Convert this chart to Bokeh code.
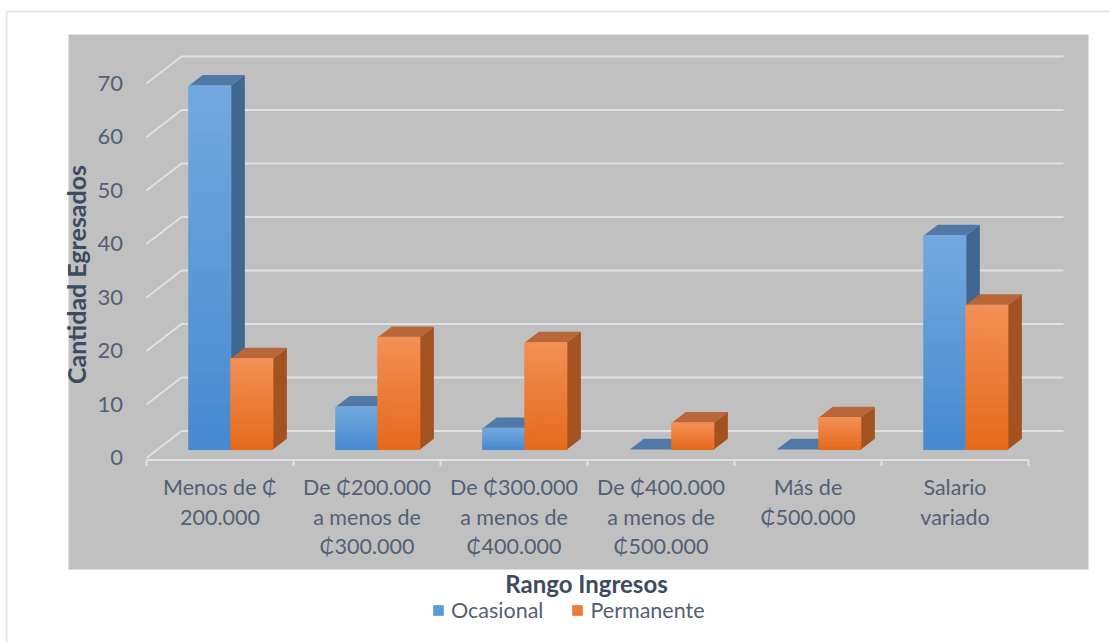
import numpy as np
from bokeh.plotting import figure
from bokeh.models import Range1d, Legend, LegendItem
from bokeh.core.properties import value
from bokeh.embed import file_html
from bokeh.resources import INLINE

# ---------------- data ----------------
categories = [
    "Menos de \u20b5\n200.000",
    "De \u20b5200.000\na menos de\n\u20b5300.000",
    "De \u20b5300.000\na menos de\n\u20b5400.000",
    "De \u20b5400.000\na menos de\n\u20b5500.000",
    "M\u00e1s de\n\u20b5500.000",
    "Salario\nvariado",
]
ocasional = [68, 8, 4, 0, 0, 40]
permanente = [17, 21, 20, 5, 6, 27]
series_names = ["Ocasional", "Permanente"]
y_ticks = [0, 10, 20, 30, 40, 50, 60, 70]
y_title = "Cantidad Egresados"
x_title = "Rango Ingresos"

# ---------------- style / layout ----------------
FONT = "Lato"
LABEL_C = "#536075"
TITLE_C = "#3e4b5f"
GRID_C = "#e0e1e4"
BORDER_C = "#e3e6ee"
BG = "#c0c0c0"
W, H = 1110, 642
X_RANGE = (-0.9932, 6.5578)          # whole canvas, category units
Y_RANGE = (-34.49, 85.51)            # whole canvas, value units
PANEL = dict(left=-0.5306, right=6.408, bottom=-20.84, top=79.16)  # grey chart area
BORDER_TOP, BORDER_LEFT = 83.46, -0.952
DX, DY = 0.238, 5.05        # oblique depth of the floor
F0, F1 = 0.31, 0.71         # bar depth position (fraction of floor depth)
BW = 0.286                  # bar width (category units)
AX = -0.4                   # front axis line offset
N_SLICES = 24

styles = [
    dict(top_c="#74a9df", bot_c="#4589cf", side_c="#3f6792", cap_c="#5079a5"),
    dict(top_c="#f38f55", bot_c="#e56a1b", side_c="#a4521f", cap_c="#b9673a"),
]

n = len(categories)

p = figure(width=W, height=H,
           x_range=Range1d(*X_RANGE), y_range=Range1d(*Y_RANGE),
           x_axis_type=None, y_axis_type=None,
           toolbar_location=None, output_backend="svg",
           min_border=0, background_fill_color="white",
           border_fill_color="white", outline_line_color=None)

# outer chart border (top and left)
p.segment(x0=[BORDER_LEFT], y0=[BORDER_TOP], x1=[X_RANGE[1]], y1=[BORDER_TOP],
          line_color=BORDER_C, line_width=2)
p.segment(x0=[BORDER_LEFT], y0=[Y_RANGE[0]], x1=[BORDER_LEFT], y1=[BORDER_TOP],
          line_color=BORDER_C, line_width=2)

# grey chart area
p.quad(left=[PANEL["left"]], right=[PANEL["right"]], bottom=[PANEL["bottom"]],
       top=[PANEL["top"]], fill_color=BG, line_color=None)

# back-wall gridlines with the left diagonal
grid_xs = [[0, DX, n + DX] for v in y_ticks]
grid_ys = [[v, v + DY, v + DY] for v in y_ticks]
p.multi_line(grid_xs, grid_ys, line_color=GRID_C, line_width=2)

# front category axis line and boundary ticks
p.segment(x0=[0], y0=[AX], x1=[n], y1=[AX], line_color=GRID_C, line_width=2)
p.segment(x0=list(range(n + 1)), y0=[AX] * (n + 1),
          x1=list(range(n + 1)), y1=[AX - 1.1] * (n + 1),
          line_color=GRID_C, line_width=2)


def hex2rgb(h):
    h = h.lstrip("#")
    return [int(h[i:i + 2], 16) for i in (0, 2, 4)]


def mix(c1, c2, t):
    a, b = hex2rgb(c1), hex2rgb(c2)
    return "#%02x%02x%02x" % tuple(int(round(a[k] + (b[k] - a[k]) * t)) for k in range(3))


front_renderers = []
for s, vals in enumerate([ocasional, permanente]):
    st = styles[s]
    side_xs, side_ys, cap_xs, cap_ys = [], [], [], []
    fl, fr, fb, ft, fc = [], [], [], [], []
    ox, oy = (F1 - F0) * DX, (F1 - F0) * DY
    for i, v in enumerate(vals):
        x0 = i + 0.5 - BW + s * BW + F0 * DX
        x1 = x0 + BW
        y0 = F0 * DY
        side_xs.append([x1, x1 + ox, x1 + ox, x1])
        side_ys.append([y0, y0 + oy, y0 + v + oy, y0 + v])
        cap_xs.append([x0, x1, x1 + ox, x0 + ox])
        cap_ys.append([y0 + v, y0 + v, y0 + v + oy, y0 + v + oy])
        if v > 0:
            for k in range(N_SLICES):
                fl.append(x0)
                fr.append(x1)
                fb.append(y0 + v * k / N_SLICES)
                ft.append(y0 + v * (k + 1) / N_SLICES)
                fc.append(mix(st["bot_c"], st["top_c"], (k + 0.5) / N_SLICES))
    p.patches(side_xs, side_ys, fill_color=st["side_c"], line_color=None)
    p.patches(cap_xs, cap_ys, fill_color=st["cap_c"], line_color=None)
    r = p.quad(left=fl, right=fr, bottom=fb, top=ft, fill_color=fc, line_color=fc, line_width=1)
    front_renderers.append(r)

# value tick labels
p.text(x=[-0.16] * len(y_ticks), y=y_ticks, text=[str(v) for v in y_ticks],
       text_align="right", text_baseline="middle", text_font=value(FONT),
       text_font_size="22px", text_color=LABEL_C)

# category labels
p.text(x=[i + 0.5 for i in range(n)], y=[-3.05] * n, text=categories,
       text_align="center", text_baseline="top", text_line_height=1.13,
       text_font=value(FONT), text_font_size="21.5px", text_color=LABEL_C)

# value axis title
p.text(x=[-0.48], y=[34.3], text=[y_title], angle=np.pi / 2,
       text_align="center", text_baseline="middle", text_font=value(FONT),
       text_font_size="25px", text_font_style="bold", text_color=TITLE_C)

# category axis title
p.text(x=[2.993], y=[-23.5], text=[x_title],
       text_align="center", text_baseline="middle", text_font=value(FONT),
       text_font_size="24px", text_font_style="bold", text_color=TITLE_C)

legend = Legend(items=[LegendItem(label=series_names[k], renderers=[front_renderers[k]],
                                  index=N_SLICES // 2) for k in range(2)],
                orientation="horizontal", location=(432, 19),
                label_text_font=FONT, label_text_font_size="21.5px",
                label_text_color=LABEL_C, glyph_width=12, glyph_height=12,
                label_standoff=7, spacing=28, padding=0, margin=0,
                border_line_color=None, background_fill_alpha=0)
p.add_layout(legend)

open("out.html", "w").write(file_html(p, INLINE))
